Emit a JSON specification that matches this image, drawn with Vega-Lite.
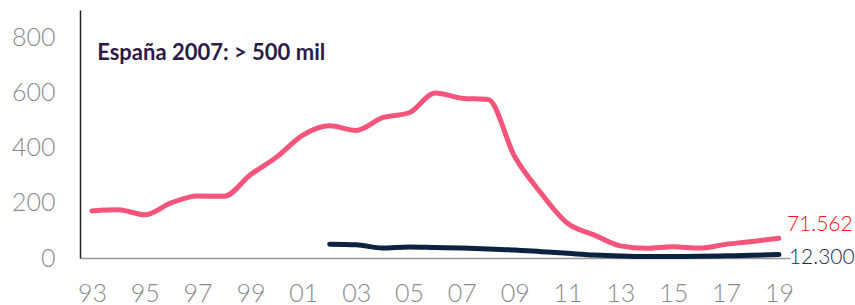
{
  "$schema": "https://vega.github.io/schema/vega-lite/v6.json",
  "width": 710,
  "height": 248,
  "autosize": {"type": "none"},
  "padding": {"left": 80, "top": 10, "right": 65, "bottom": 47},
  "background": "white",
  "config": {"view": {"stroke": null}, "font": "Lato"},
  "datasets": {
    "series": [
      {"year": 1993, "value": 171, "serie": "España"},
      {"year": 1994, "value": 175, "serie": "España"},
      {"year": 1995, "value": 157, "serie": "España"},
      {"year": 1996, "value": 200, "serie": "España"},
      {"year": 1997, "value": 225, "serie": "España"},
      {"year": 1998, "value": 224, "serie": "España"},
      {"year": 1999, "value": 302, "serie": "España"},
      {"year": 2000, "value": 367, "serie": "España"},
      {"year": 2001, "value": 447, "serie": "España"},
      {"year": 2002, "value": 480, "serie": "España"},
      {"year": 2003, "value": 463, "serie": "España"},
      {"year": 2004, "value": 509, "serie": "España"},
      {"year": 2005, "value": 527, "serie": "España"},
      {"year": 2006, "value": 599, "serie": "España"},
      {"year": 2007, "value": 580, "serie": "España"},
      {"year": 2008, "value": 575, "serie": "España"},
      {"year": 2009, "value": 368, "serie": "España"},
      {"year": 2010, "value": 235, "serie": "España"},
      {"year": 2011, "value": 126, "serie": "España"},
      {"year": 2012, "value": 84, "serie": "España"},
      {"year": 2013, "value": 44, "serie": "España"},
      {"year": 2014, "value": 35, "serie": "España"},
      {"year": 2015, "value": 41, "serie": "España"},
      {"year": 2016, "value": 36, "serie": "España"},
      {"year": 2017, "value": 50, "serie": "España"},
      {"year": 2018, "value": 60, "serie": "España"},
      {"year": 2019, "value": 71.562, "serie": "España"},
      {"year": 2002, "value": 50, "serie": "Otra"},
      {"year": 2003, "value": 48, "serie": "Otra"},
      {"year": 2004, "value": 36, "serie": "Otra"},
      {"year": 2005, "value": 40, "serie": "Otra"},
      {"year": 2006, "value": 38, "serie": "Otra"},
      {"year": 2007, "value": 36, "serie": "Otra"},
      {"year": 2008, "value": 33, "serie": "Otra"},
      {"year": 2009, "value": 29, "serie": "Otra"},
      {"year": 2010, "value": 23, "serie": "Otra"},
      {"year": 2011, "value": 17, "serie": "Otra"},
      {"year": 2012, "value": 11, "serie": "Otra"},
      {"year": 2013, "value": 7, "serie": "Otra"},
      {"year": 2014, "value": 5, "serie": "Otra"},
      {"year": 2015, "value": 5, "serie": "Otra"},
      {"year": 2016, "value": 6, "serie": "Otra"},
      {"year": 2017, "value": 8, "serie": "Otra"},
      {"year": 2018, "value": 10, "serie": "Otra"},
      {"year": 2019, "value": 12.3, "serie": "Otra"}
    ]
  },
  "layer": [
    {
      "data": {"name": "series"},
      "mark": {"type": "line", "interpolate": "monotone", "strokeWidth": 5, "strokeCap": "round", "strokeJoin": "round"},
      "encoding": {
        "x": {
          "field": "year", "type": "quantitative",
          "scale": {"domain": [1992.55, 2019.42], "nice": false, "zero": false},
          "axis": {
            "title": null,
            "values": [1993, 1995, 1997, 1999, 2001, 2003, 2005, 2007, 2009, 2011, 2013, 2015, 2017, 2019],
            "format": "d",
            "labelExpr": "substring(datum.label, 2)",
            "grid": false, "ticks": false,
            "domainColor": "#999999", "domainWidth": 1.5,
            "labelFont": "Lato", "labelFontWeight": 300, "labelFontSize": 25, "labelColor": "#8a8a8a",
            "labelPadding": 23, "labelFlush": false, "labelOverlap": false
          }
        },
        "y": {
          "field": "value", "type": "quantitative",
          "scale": {"domain": [0, 900], "nice": false},
          "axis": {
            "title": null,
            "values": [0, 200, 400, 600, 800],
            "grid": false, "ticks": false,
            "domainColor": "#222222", "domainWidth": 1.5,
            "labelFont": "Lato", "labelFontWeight": 300, "labelFontSize": 25, "labelColor": "#8a8a8a",
            "labelPadding": 25, "labelFlush": false, "labelOverlap": false
          }
        },
        "color": {
          "field": "serie", "type": "nominal",
          "scale": {"domain": ["España", "Otra"], "range": ["#F5557A", "#0B2241"]},
          "legend": null
        },
        "order": {"field": "year"}
      }
    },
    {
      "data": {"values": [{"year": 1993.2, "value": 745, "label": "España 2007: > 500 mil"}]},
      "mark": {"type": "text", "align": "left", "baseline": "middle", "font": "Lato", "fontWeight": "bold", "fontSize": 22, "color": "#2E1A47"},
      "encoding": {
        "x": {"field": "year", "type": "quantitative"},
        "y": {"field": "value", "type": "quantitative"},
        "text": {"field": "label"}
      }
    },
    {
      "data": {"values": [{"year": 2019, "value": 71.562, "label": "71.562"}]},
      "mark": {"type": "text", "align": "left", "baseline": "middle", "dx": 8, "dy": -13, "font": "Lato", "fontWeight": 300, "fontSize": 21, "color": "#FF1010"},
      "encoding": {
        "x": {"field": "year", "type": "quantitative"},
        "y": {"field": "value", "type": "quantitative"},
        "text": {"field": "label"}
      }
    },
    {
      "data": {"values": [{"year": 2019, "value": 12.3, "label": "12.300"}]},
      "mark": {"type": "text", "align": "left", "baseline": "middle", "dx": 10, "dy": 3, "font": "Lato", "fontWeight": 300, "fontSize": 21, "color": "#1A2B4A"},
      "encoding": {
        "x": {"field": "year", "type": "quantitative"},
        "y": {"field": "value", "type": "quantitative"},
        "text": {"field": "label"}
      }
    }
  ]
}
